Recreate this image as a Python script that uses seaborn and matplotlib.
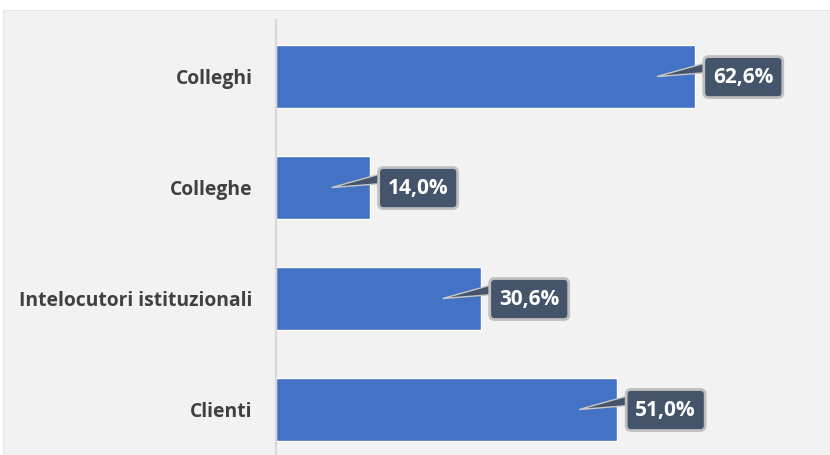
import matplotlib
matplotlib.use("Agg")
import matplotlib.pyplot as plt
import seaborn as sns
import pandas as pd
from matplotlib.patches import FancyBboxPatch, Polygon, Rectangle

categorie = ["Colleghi", "Colleghe", "Intelocutori istituzionali", "Clienti"]
valori = [62.6, 14.0, 30.6, 51.0]
etichette = ["62,6%", "14,0%", "30,6%", "51,0%"]

df = pd.DataFrame({"categoria": categorie, "valore": valori})

sns.set_style("white")
plt.rcParams["font.family"] = ["Open Sans", "DejaVu Sans"]

fig = plt.figure(figsize=(8.3, 4.55), dpi=100)
fig.patch.set_facecolor("white")
# pannello grigio dello sfondo
fig.patches.append(Rectangle((3 / 830, 0), 1, 445 / 455, transform=fig.transFigure,
                             facecolor="#f2f2f2", edgecolor="#e6e6e6", lw=0.8, zorder=-10))

ax = fig.add_axes([276 / 830, 0, 1 - 276 / 830, 435 / 455])
ax.set_facecolor("none")

sns.barplot(data=df, x="valore", y="categoria", orient="h", color="#4472C4",
            saturation=1, width=0.57, ax=ax)

ax.set_xlim(0, 554 / 6.69)
ax.set_ylim(3.41, -0.51)
ax.set_xlabel("")
ax.set_ylabel("")
ax.set_xticks([])
ax.tick_params(axis="y", length=0, pad=17)
for lab in ax.get_yticklabels():
    lab.set_fontweight("bold")
    lab.set_fontsize(13.9)
    lab.set_color("#404040")

for s in ["top", "right", "bottom"]:
    ax.spines[s].set_visible(False)
ax.spines["left"].set_color("#d9d9d9")
ax.spines["left"].set_linewidth(1.5)

# unita' per pixel
ux = 1 / 6.69
uy = 1 / 111.0

for i, (v, t) in enumerate(zip(valori, etichette)):
    x0 = v + 9 * ux
    w = 79 * ux
    h = 41 * uy
    y0 = i - h / 2 + 0.5 * uy
    tip = (v - 38 * ux, i)
    wedge = Polygon([tip, (x0 + 3 * ux, y0 + 6 * uy), (x0 + 3 * ux, y0 + 16 * uy)],
                    closed=True, facecolor="#44546A", edgecolor="#c8c8c8", lw=1.0, zorder=4)
    ax.add_patch(wedge)
    box = FancyBboxPatch((x0, y0), w, h,
                         boxstyle="round,pad=0,rounding_size=%f" % (5 * ux),
                         mutation_aspect=uy / ux,
                         facecolor="#44546A", edgecolor="#bfbfbf", lw=2, zorder=5)
    ax.add_patch(box)
    ax.text(x0 + w / 2, i + 0.5 * uy, t, ha="center", va="center", color="white",
            fontsize=15, fontweight="bold", zorder=6)

fig.savefig("out.png", dpi=100)
